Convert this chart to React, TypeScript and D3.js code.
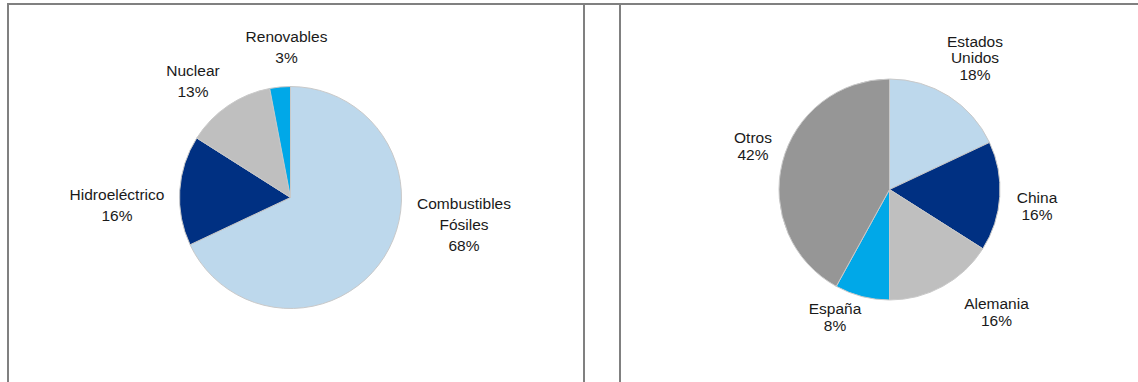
import React from "react";
import * as d3 from "d3";

// ---- Data ----
const leftCategories = ["Combustibles Fósiles", "Hidroeléctrico", "Nuclear", "Renovables"];
const leftLabelLines = [["Combustibles", "Fósiles"], ["Hidroeléctrico"], ["Nuclear"], ["Renovables"]];
const leftValues = [68, 16, 13, 3];

const rightCategories = ["Estados Unidos", "China", "Alemania", "España", "Otros"];
const rightLabelLines = [["Estados", "Unidos"], ["China"], ["Alemania"], ["España"], ["Otros"]];
const rightValues = [18, 16, 16, 8, 42];

// ---- Styles / layout ----
const leftColors = ["#BDD8EC", "#003082", "#BFBFBF", "#00A8E8"];
const rightColors = ["#BDD8EC", "#003082", "#BFBFBF", "#00A8E8", "#969696"];

const W = 1138;
const H = 382;
const FONT = "'Liberation Sans', Arial, sans-serif";

interface PanelLayout {
  cx: number;
  cy: number;
  r: number;
  lineH: number;
  labelOffsets: [number, number][];
}

const leftLayout: PanelLayout = {
  cx: 290.5,
  cy: 197.5,
  r: 111,
  lineH: 21,
  labelOffsets: [
    [173.5, 11.5],
    [-173.5, 2.5],
    [-97.5, -121.5],
    [-4, -155.2],
  ],
};

const rightLayout: PanelLayout = {
  cx: 889.5,
  cy: 189.5,
  r: 110.5,
  lineH: 16.7,
  labelOffsets: [
    [85.5, -142.8],
    [147.5, 13.8],
    [107, 119.5],
    [-54.5, 124.5],
    [-136.5, -46.2],
  ],
};

function Pie({
  values,
  lines,
  colors,
  layout,
}: {
  values: number[];
  lines: string[][];
  colors: string[];
  layout: PanelLayout;
}) {
  const pie = d3
    .pie<number>()
    .sort(null)
    .value((d) => d)
    .startAngle(0)
    .endAngle(2 * Math.PI);
  const arcs = pie(values);
  const arc = d3.arc<d3.PieArcDatum<number>>().innerRadius(0).outerRadius(layout.r);
  const fmt = (v: number) => `${d3.format("d")(v)}%`;
  return (
    <g>
      <g transform={`translate(${layout.cx},${layout.cy})`}>
        {arcs.map((a, i) => (
          <path
            key={i}
            d={arc(a) || ""}
            fill={colors[i]}
            stroke="#C9C9C9"
            strokeWidth={1}
            strokeLinejoin="round"
          />
        ))}
      </g>
      {arcs.map((a, i) => {
        const [ox, oy] = layout.labelOffsets[i];
        const all = [...lines[i], fmt(values[i])];
        return (
          <text
            key={i}
            x={layout.cx + ox}
            y={layout.cy + oy}
            textAnchor="middle"
            fontFamily={FONT}
            fontSize={15.5}
            fill="#1A1A1A"
          >
            {all.map((t, j) => (
              <tspan key={j} x={layout.cx + ox} dy={j === 0 ? 0 : layout.lineH}>
                {t}
              </tspan>
            ))}
          </text>
        );
      })}
    </g>
  );
}

export default function App() {
  return (
    <svg
      width={W}
      height={H}
      style={{ position: "absolute", left: 0, top: 0, background: "#fff" }}
    >
      <rect x={0} y={0} width={W} height={H} fill="#fff" />
      <g stroke="#808080" strokeWidth={2}>
        <line x1={7} y1={4} x2={W} y2={4} />
        <line x1={8} y1={4} x2={8} y2={H} />
        <line x1={584} y1={4} x2={584} y2={H} />
        <line x1={620} y1={4} x2={620} y2={H} />
      </g>
      <Pie values={leftValues} lines={leftLabelLines} colors={leftColors} layout={leftLayout} />
      <Pie values={rightValues} lines={rightLabelLines} colors={rightColors} layout={rightLayout} />
    </svg>
  );
}
